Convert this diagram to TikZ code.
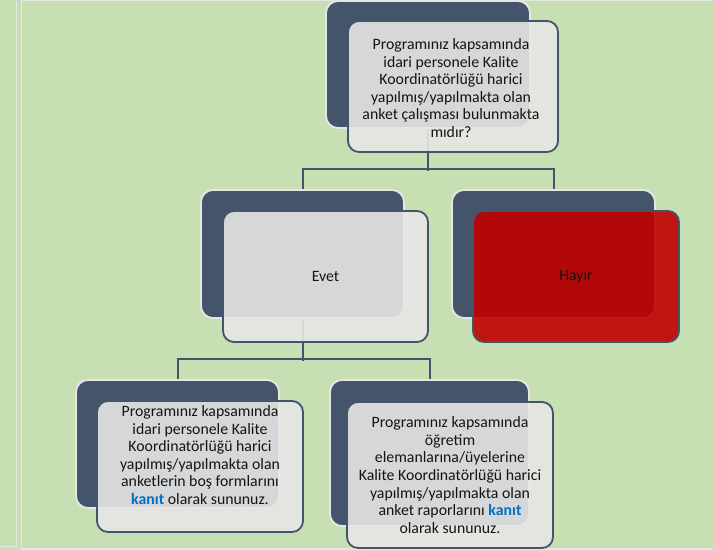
\documentclass[tikz,border=0pt]{standalone}
\usepackage{fontspec}
\setmainfont{Carlito}
\definecolor{bggreen}{RGB}{198,224,180}
\definecolor{slate}{RGB}{68,84,106}
\definecolor{paleline}{RGB}{230,230,230}
\definecolor{frontfill}{RGB}{230,230,229}
\definecolor{hayirred}{RGB}{192,0,0}
\definecolor{kanitblue}{RGB}{0,112,192}
\definecolor{txt}{RGB}{20,20,20}
\newcommand{\kanit}{\textcolor{kanitblue}{\textbf{kanıt}}}
\begin{document}
\begin{tikzpicture}[x=1bp,y=-1bp,
  backbox/.style={draw=paleline, line width=1.8bp, fill=slate, rounded corners=12bp, inner sep=0pt},
  frontbox/.style={draw=slate, line width=1.8bp, fill=frontfill, fill opacity=0.9, text opacity=1, rounded corners=11bp, inner sep=0pt, align=center, text=txt, font=\fontsize{15.8bp}{17.6bp}\selectfont},
  redbox/.style={frontbox, fill=hayirred},
  txtnode/.style={align=center, text=txt, inner sep=0pt, font=\fontsize{15.8bp}{17.6bp}\selectfont},
  conn/.style={draw=slate, line width=2bp}]
\useasboundingbox (0,0) rectangle (713,550);
\fill[bggreen] (0,0) rectangle (713,550);
\draw[paleline, line width=1.5bp] (0,546.5) -- (16.5,546.5) -- (16.5,0);
\draw[paleline, line width=1.5bp] (21.5,550) -- (21.5,0.5) -- (713,0.5);
\draw[paleline, line width=1.5bp] (21.5,549) -- (713,549);
% back boxes
\node[backbox, minimum width=204bp, minimum height=127bp] (topback) at (428,64.5) {};
\node[backbox, minimum width=203bp, minimum height=128bp] (evetback) at (302.5,254) {};
\node[backbox, minimum width=203bp, minimum height=128bp] (hayirback) at (553.5,254) {};
\node[backbox, minimum width=203bp, minimum height=128bp] (blback) at (177.5,444) {};
\node[backbox, minimum width=199bp, minimum height=146bp] (brback) at (429.5,453) {};
% connectors
\draw[conn] (topback.south) -- ++(0,42);
\draw[conn] (evetback.north) -- ++(0,-20) -| (hayirback.north);
\draw[conn] (evetback.south) -- ++(0,42);
\draw[conn] (blback.north) -- ++(0,-20) -| (brback.north);
% front boxes
\node[frontbox, minimum width=210bp, minimum height=131bp] (topfront) at (453,86.5) {};
\node[frontbox, minimum width=205bp, minimum height=131bp] (evetfront) at (325.5,276.5) {Evet};
\node[redbox, minimum width=206bp, minimum height=131bp] (hayirfront) at (576,276.5) {Hayır};
\node[frontbox, minimum width=206bp, minimum height=131bp] (blfront) at (200,466.5) {};
\node[frontbox, minimum width=206bp, minimum height=146bp] (brfront) at (450,475) {};
% texts
\node[txtnode] (toptext) at (451,88) {Programınız kapsamında\\idari personele Kalite\\Koordinatörlüğü harici\\yapılmış/yapılmakta olan\\anket çalışması bulunmakta\\mıdır?};
\node[txtnode] (bltext) at (200,455) {Programınız kapsamında\\idari personele Kalite\\Koordinatörlüğü harici\\yapılmış/yapılmakta olan\\anketlerin boş formlarını\\\kanit{} olarak sununuz.};
\node[txtnode] (brtext) at (450,475) {Programınız kapsamında\\öğretim\\elemanlarına/üyelerine\\Kalite Koordinatörlüğü harici\\yapılmış/yapılmakta olan\\anket raporlarını \kanit\\olarak sununuz.};
\end{tikzpicture}
\end{document}
